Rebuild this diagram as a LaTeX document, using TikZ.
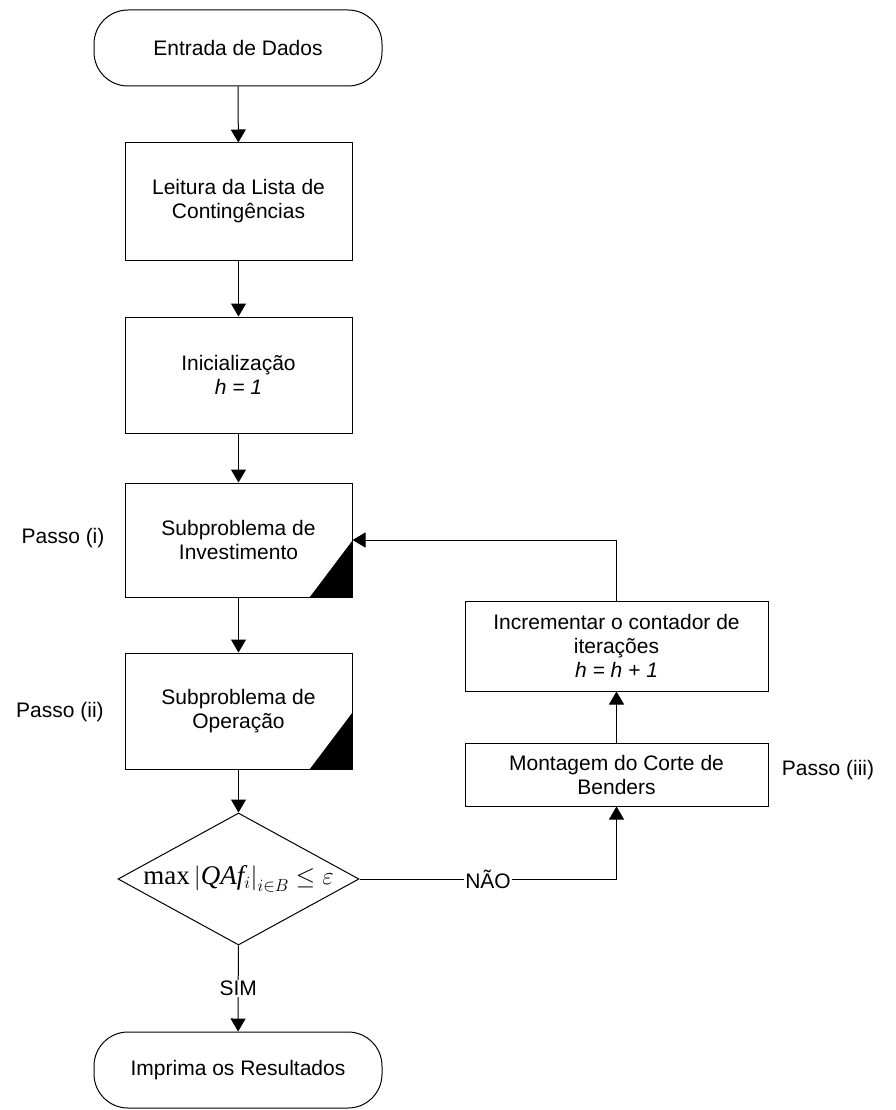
\documentclass[tikz,border=0pt]{standalone}
\usepackage{fontspec}
\setmainfont{Liberation Sans}
\newfontfamily\serifa{Liberation Serif}
\usetikzlibrary{arrows.meta,shapes.geometric}

\begin{document}
\begin{tikzpicture}[x=1pt,y=-1pt,line width=1pt,
		font=\fontsize{21}{24}\selectfont,
		seta/.style={-{Triangle[length=13pt,width=15pt]}},
		caixa/.style={draw,align=center,inner sep=0pt,minimum width=227pt},
		terminal/.style={draw,rounded corners=34pt,minimum width=288pt,minimum height=76pt},
		decisao/.style={draw,diamond,inner sep=0pt,minimum width=241pt,minimum height=132pt},
		rotulo/.style={fill=white,inner sep=1pt}]
	\useasboundingbox (0,0) rectangle (895,1110);

	% coluna principal
	\node[terminal] (entrada) at (238,48) {Entrada de Dados};
	\node[caixa,minimum height=117pt] (leitura) at (238.5,201.5) {Leitura da Lista de\\Contingências};
	\node[caixa,minimum height=116pt] (inicial) at (238.5,375) {Inicialização\\\textit{h = 1}};
	\node[caixa,minimum height=114pt] (invest) at (238.5,540) {Subproblema de\\Investimento};
	\node[caixa,minimum height=116pt] (operacao) at (238.5,711) {Subproblema de\\Operação};
	\node[decisao] (teste) at (238.5,879) {};
	\node[font=\fontsize{27}{30}\selectfont,inner sep=0pt] (formula) at (238.5,879)
		{\serifa max$\,\Bigl|${\serifa\itshape QAf}$_i\Bigr|_{i\in B}\le\varepsilon$};
	\node[terminal] (imprima) at (238,1070) {Imprima os Resultados};

	% coluna da direita
	\node[caixa,minimum width=303pt,minimum height=90pt] (increm) at (616.5,646)
		{Incrementar o contador de\\iterações\\\textit{h = h + 1}};
	\node[caixa,minimum width=303pt,minimum height=63pt] (montagem) at (616.5,774.5)
		{Montagem do Corte de\\Benders};

	% passos
	\node (passoi) at (63,538) {Passo (i)};
	\node (passoii) at (60,712) {Passo (ii)};
	\node (passoiii) at (828,770) {Passo (iii)};

	% cantos pretos
	\foreach \c in {invest,operacao}{
			\fill ([xshift=-43pt]\c.south east) -- (\c.south east)
			-- ([yshift=57pt]\c.south east) -- cycle;}

	% ligacoes
	\draw[seta] (entrada) -- (leitura);
	\draw[seta] (leitura) -- (inicial);
	\draw[seta] (inicial) -- (invest);
	\draw[seta] (invest) -- (operacao);
	\draw[seta] (operacao) -- (teste);
	\draw[seta] (teste) -- node[rotulo] (sim) {SIM} (imprima);
	\draw[seta] (teste.east) -- node[rotulo,pos=0.5] (nao) {NÃO} (montagem.south |- teste.east) -- (montagem.south);
	\draw[seta] (montagem) -- (increm);
	\draw[seta] (increm.north) |- (invest.east);
\end{tikzpicture}
\end{document}
